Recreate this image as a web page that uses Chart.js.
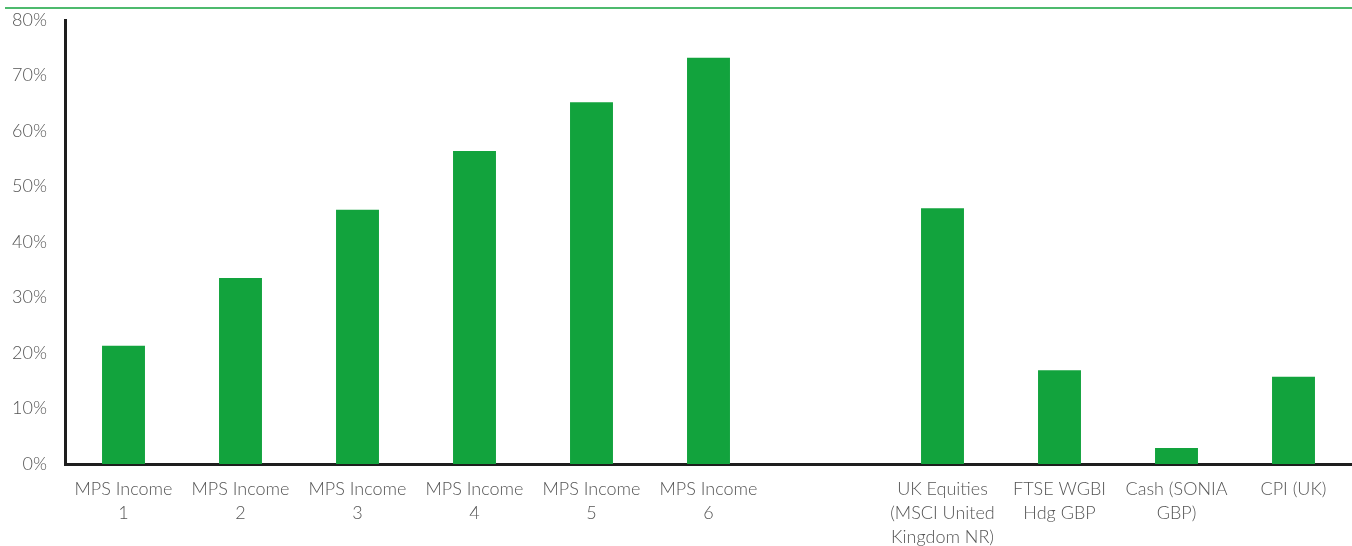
<!DOCTYPE html>
<html>
<head>
<meta charset="utf-8">
<script src="https://cdn.jsdelivr.net/npm/chart.js@4"></script>
<style>
  html, body { margin: 0; padding: 0; background: #fff; }
  #wrap { position: relative; width: 1352px; height: 546px; }
</style>
</head>
<body>
<div id="wrap"><canvas id="c" width="1352" height="546"></canvas></div>
<script>
const categories = [
  ["MPS Income", "1"],
  ["MPS Income", "2"],
  ["MPS Income", "3"],
  ["MPS Income", "4"],
  ["MPS Income", "5"],
  ["MPS Income", "6"],
  "",
  ["UK Equities", "(MSCI United", "Kingdom NR)"],
  ["FTSE WGBI", "Hdg GBP"],
  ["Cash (SONIA", "GBP)"],
  ["CPI (UK)"]
];
const values = [21.3, 33.5, 45.8, 56.4, 65.2, 73.2, null, 46.1, 16.9, 2.9, 15.7];
const yTicks = [0, 10, 20, 30, 40, 50, 60, 70, 80];

const topLine = {
  id: 'topLine',
  afterDraw(chart) {
    const ctx = chart.ctx;
    ctx.save();
    ctx.strokeStyle = '#12a33d';
    ctx.lineWidth = 1.5;
    ctx.beginPath();
    ctx.moveTo(5, 8);
    ctx.lineTo(1352, 8);
    ctx.stroke();
    ctx.restore();
  }
};

new Chart(document.getElementById('c'), {
  type: 'bar',
  data: {
    labels: categories,
    datasets: [{
      data: values,
      backgroundColor: '#12a33d',
      borderWidth: 0,
      categoryPercentage: 1,
      barPercentage: 0.367
    }]
  },
  options: {
    responsive: false,
    animation: false,
    layout: { padding: { top: 20, right: 0, left: 0, bottom: 0 } },
    plugins: { legend: { display: false }, tooltip: { enabled: false } },
    scales: {
      x: {
        afterFit(s) { s.height = 82; s.paddingLeft = 0; s.paddingRight = 0; },
        grid: { display: false, drawTicks: false },
        border: { display: true, color: '#1e1e1e', width: 3 },
        ticks: {
          autoSkip: false, maxRotation: 0, minRotation: 0,
          color: '#555',
          padding: 13,
          font: { family: 'Lato', weight: '300', size: 18, lineHeight: 1.33 }
        }
      },
      y: {
        min: 0, max: 80,
        afterFit(s) { s.width = 65; s.paddingTop = 0; s.paddingBottom = 0; },
        afterBuildTicks(s) { s.ticks = yTicks.map(v => ({ value: v })); },
        grid: { display: false, drawTicks: false },
        border: { display: true, color: '#1e1e1e', width: 3 },
        ticks: {
          color: '#555',
          padding: 18,
          font: { family: 'Lato', weight: '300', size: 18 },
          callback: v => v + '%'
        }
      }
    }
  },
  plugins: [topLine]
});
</script>
</body>
</html>
